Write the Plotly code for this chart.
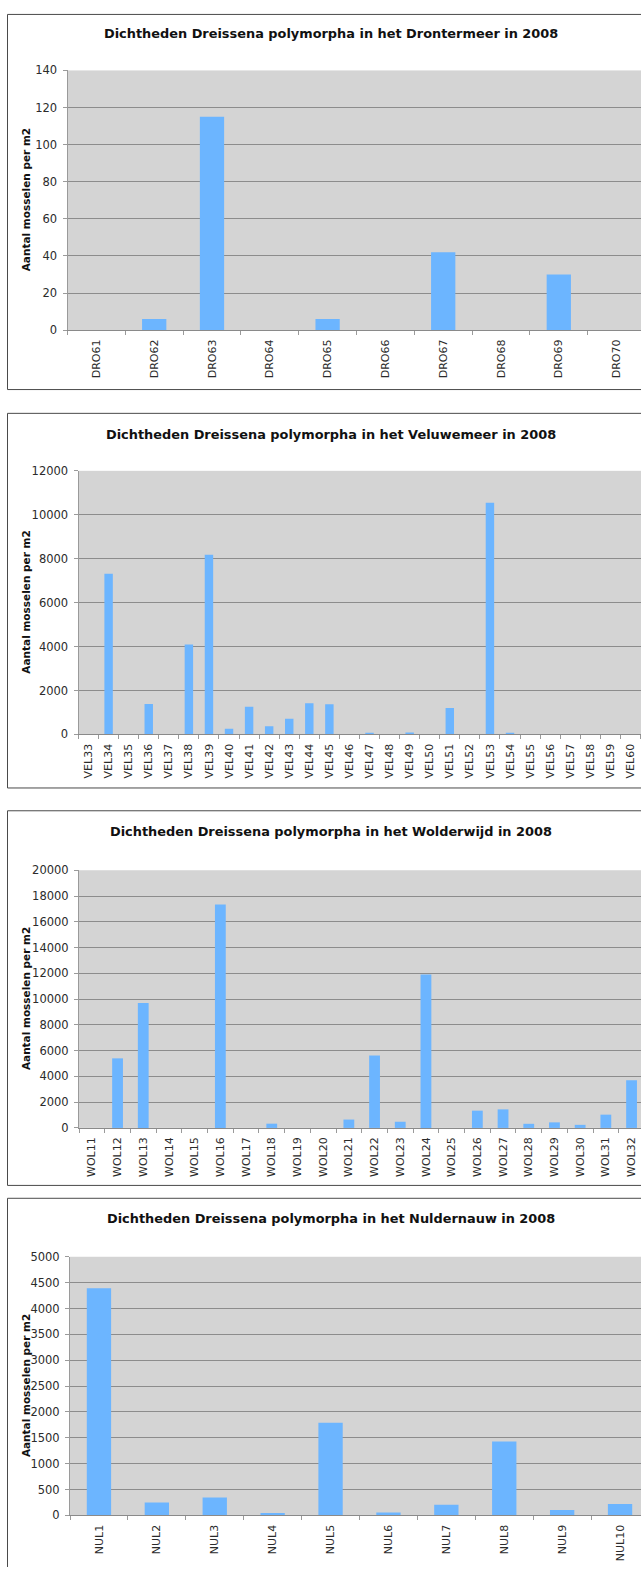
import plotly.graph_objects as go

# ---- data ----
dro_stations = ["DRO61", "DRO62", "DRO63", "DRO64", "DRO65",
                "DRO66", "DRO67", "DRO68", "DRO69", "DRO70"]
dro_density = [0, 6, 115, 0, 6, 0, 42, 0, 30, 0]

vel_stations = ["VEL%d" % n for n in range(33, 61)]
vel_density = [0, 7320, 0, 1390, 0, 4100, 8180, 260, 1260, 370,
               710, 1420, 1380, 0, 50, 0, 90, 0, 1200, 0,
               10550, 60, 0, 0, 0, 0, 0, 0]

wol_stations = ["WOL%d" % n for n in range(11, 33)]
wol_density = [0, 5400, 9700, 0, 0, 17350, 0, 330, 0, 0,
               650, 5620, 480, 11900, 0, 1340, 1440, 320, 430, 240,
               1030, 3700]

nul_stations = ["NUL%d" % n for n in range(1, 11)]
nul_density = [4390, 250, 345, 45, 1790, 55, 205, 1430, 105, 220]

titles = [
    "Dichtheden Dreissena polymorpha in het Drontermeer in 2008",
    "Dichtheden Dreissena polymorpha in het Veluwemeer in 2008",
    "Dichtheden Dreissena polymorpha in het Wolderwijd in 2008",
    "Dichtheden Dreissena polymorpha in het Nuldernauw in 2008",
]
y_title = "Aantal mosselen per m2"
y_max = [140, 12000, 20000, 5000]
y_step = [20, 2000, 2000, 500]

# ---- layout geometry (pixels) ----
W, H = 641, 1572
# plot area: left, top, bottom ; category spacing
plots = [
    dict(left=67.5, top=64, bottom=326, step=57.8),
    dict(left=78.5, top=468, bottom=734, step=20.07),
    dict(left=79, top=871, bottom=1131, step=25.7),
    dict(left=70, top=1261, bottom=1522, step=57.9),
]
# outer frames: top, bottom (None = runs off the page), title y
frames = [
    dict(top=7.5, bottom=386, title=27),
    dict(top=410, bottom=788, title=431),
    dict(top=811, bottom=1189, title=832),
    dict(top=1202, bottom=None, title=1222),
]

BAR = "#6cb5ff"
PLOT_BG = "#d4d4d4"
GRID = "#8c8c8c"
FONT = "DejaVu Sans"

def px_x(x):
    return x / W

def px_y(y):
    return 1 - y / H

series = [(dro_stations, dro_density), (vel_stations, vel_density),
          (wol_stations, wol_density), (nul_stations, nul_density)]

fig = go.Figure()
layout = dict(
    width=W, height=H,
    margin=dict(l=0, r=0, t=0, b=0),
    paper_bgcolor="white",
    plot_bgcolor=PLOT_BG,
    showlegend=False,
    bargap=0.58,
    font=dict(family=FONT, color="#333333", size=11),
)

annotations = []
shapes = []

for i, ((cats, vals), p, f) in enumerate(zip(series, plots, frames)):
    k = "" if i == 0 else str(i + 1)
    fig.add_trace(go.Bar(
        x=cats, y=vals,
        xaxis="x" + k, yaxis="y" + k,
        marker=dict(color=BAR, line=dict(width=0)),
    ))
    n_span = (W - p["left"]) / p["step"]
    layout["xaxis" + k] = dict(
        domain=[px_x(p["left"]), 1],
        anchor="y" + k,
        type="category",
        range=[-0.5, -0.5 + n_span],
        tickangle=-90,
        tickfont=dict(size=11, color="#2b2b2b"),
        ticks="outside", tickson="boundaries",
        ticklen=4, tickcolor="#9a9a9a",
        ticklabelstandoff=4,
        showline=True, linecolor="#8a8a8a", linewidth=1,
        showgrid=False, zeroline=False,
        fixedrange=True,
    )
    layout["yaxis" + k] = dict(
        domain=[px_y(p["bottom"]), px_y(p["top"])],
        anchor="x" + k,
        range=[0, y_max[i]],
        dtick=y_step[i], tick0=0,
        tickformat="d",
        tickfont=dict(size=11.5, color="#2b2b2b"),
        ticks="outside", ticklen=4, tickcolor="#9a9a9a",
        ticklabelstandoff=3,
        showline=True, linecolor="#9a9a9a", linewidth=1,
        showgrid=True, gridcolor=GRID, gridwidth=1,
        zeroline=False,
        fixedrange=True,
    )

    # chart title
    annotations.append(dict(
        text="<b>%s</b>" % titles[i],
        xref="paper", yref="paper",
        x=px_x(331), y=px_y(f["title"]),
        xanchor="center", yanchor="middle",
        showarrow=False,
        font=dict(family=FONT, size=12.9, color="#111111"),
    ))
    # y-axis title
    annotations.append(dict(
        text="<b>%s</b>" % y_title,
        xref="paper", yref="paper",
        x=px_x(26), y=px_y((p["top"] + p["bottom"]) / 2),
        xanchor="center", yanchor="middle",
        textangle=-90, showarrow=False,
        font=dict(family=FONT, size=10.5, color="#111111"),
    ))

    # outer frame of each chart (right side runs off the page)
    line = dict(color="#4a4a4a", width=1)
    x0 = px_x(7.5)
    shapes.append(dict(type="line", xref="paper", yref="paper",
                       x0=x0, x1=1, y0=px_y(f["top"]), y1=px_y(f["top"]),
                       line=line))
    bottom = f["bottom"] if f["bottom"] is not None else H + 2
    shapes.append(dict(type="line", xref="paper", yref="paper",
                       x0=x0, x1=x0, y0=px_y(f["top"]), y1=px_y(bottom),
                       line=line))
    if f["bottom"] is not None:
        shapes.append(dict(type="line", xref="paper", yref="paper",
                           x0=x0, x1=1, y0=px_y(f["bottom"]), y1=px_y(f["bottom"]),
                           line=line))

layout["annotations"] = annotations
layout["shapes"] = shapes
fig.update_layout(**layout)

fig.write_html("out.html", config={"displayModeBar": False})
